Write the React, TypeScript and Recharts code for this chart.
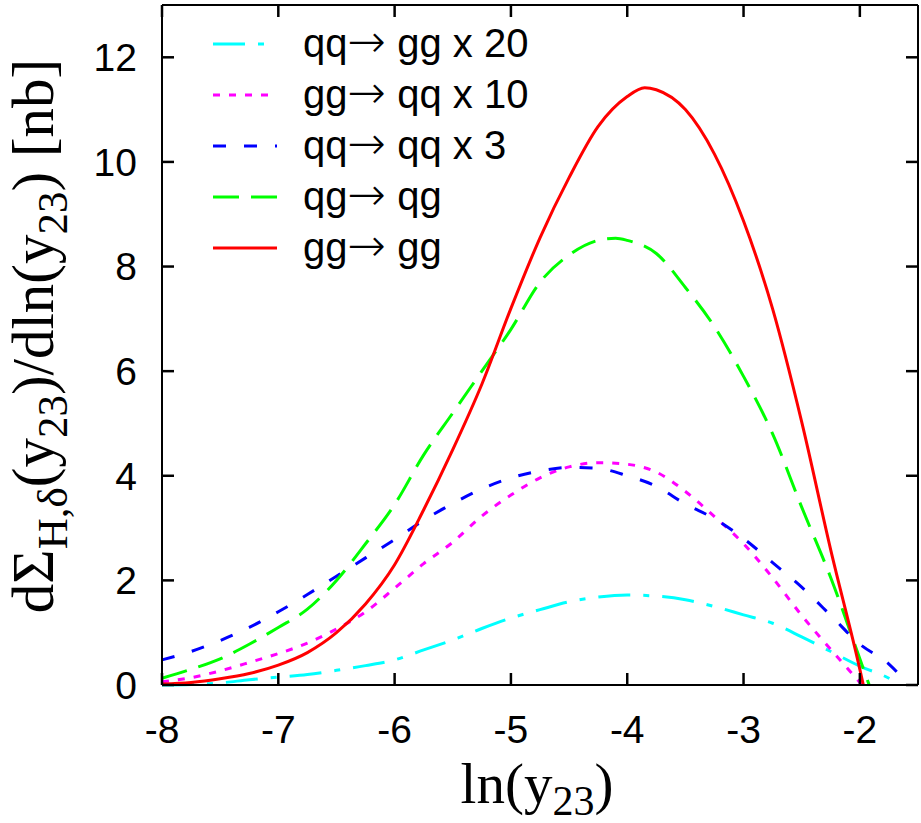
import { Line, LineChart, ReferenceLine, XAxis, YAxis } from "recharts";

const xTicks = [-8, -7, -6, -5, -4, -3, -2];
const yTicks = [0, 2, 4, 6, 8, 10, 12];
const xDomain = [-8, -1.5];
const yDomain = [0, 13];

// qq -> gg x 20
const cyanX = [-8, -7.75, -7.5, -7.25, -7, -6.75, -6.5, -6.25, -6, -5.75, -5.5, -5.25, -5, -4.75, -4.5, -4.25, -4, -3.75, -3.5, -3.25, -3, -2.75, -2.5, -2.25, -2, -1.75, -1.65];
const cyanY = [0, 0.01, 0.04, 0.1, 0.15, 0.2, 0.28, 0.37, 0.48, 0.67, 0.86, 1.08, 1.28, 1.44, 1.59, 1.68, 1.72, 1.7, 1.63, 1.5, 1.34, 1.18, 0.92, 0.64, 0.36, 0.13, 0];

// gg -> qq x 10
const magentaX = [-8, -7.75, -7.5, -7.25, -7, -6.75, -6.5, -6.25, -6, -5.75, -5.5, -5.25, -5, -4.75, -4.5, -4.25, -4, -3.75, -3.5, -3.25, -3, -2.75, -2.5, -2.25, -2, -1.98];
const magentaY = [0.06, 0.14, 0.27, 0.43, 0.6, 0.8, 1.07, 1.4, 1.85, 2.32, 2.73, 3.23, 3.63, 3.96, 4.17, 4.25, 4.22, 4.07, 3.7, 3.22, 2.7, 2.05, 1.33, 0.68, 0.05, 0];

// qq -> qq x 3
const blueX = [-8, -7.75, -7.5, -7.25, -7, -6.75, -6.5, -6.25, -6, -5.75, -5.5, -5.25, -5, -4.75, -4.5, -4.25, -4, -3.75, -3.5, -3.25, -3, -2.75, -2.5, -2.25, -2, -1.75, -1.58];
const blueY = [0.48, 0.64, 0.85, 1.1, 1.4, 1.73, 2.08, 2.43, 2.78, 3.15, 3.47, 3.75, 3.96, 4.09, 4.16, 4.14, 4.0, 3.8, 3.46, 3.18, 2.8, 2.34, 1.87, 1.33, 0.78, 0.4, 0];

// qg -> qg
const greenX = [-8, -7.75, -7.5, -7.25, -7, -6.75, -6.5, -6.25, -6, -5.75, -5.5, -5.25, -5, -4.75, -4.5, -4.25, -4.1, -4, -3.75, -3.5, -3.25, -3, -2.75, -2.5, -2.25, -2, -1.92];
const greenY = [0.13, 0.3, 0.5, 0.78, 1.1, 1.45, 2.0, 2.7, 3.45, 4.4, 5.2, 6.0, 6.8, 7.7, 8.22, 8.5, 8.54, 8.5, 8.25, 7.6, 6.85, 5.9, 4.8, 3.4, 2.05, 0.5, 0];

// gg -> gg
const redX = [-8, -7.75, -7.5, -7.25, -7, -6.75, -6.5, -6.25, -6, -5.75, -5.5, -5.25, -5, -4.75, -4.5, -4.25, -4, -3.85, -3.75, -3.5, -3.25, -3, -2.75, -2.5, -2.25, -2, -1.97];
const redY = [0.02, 0.05, 0.12, 0.22, 0.38, 0.62, 1.0, 1.55, 2.3, 3.35, 4.5, 5.75, 7.2, 8.55, 9.7, 10.68, 11.25, 11.42, 11.38, 11.0, 10.15, 8.87, 7.19, 5.03, 2.58, 0.3, 0];

const toRows = (xs: number[], ys: number[]) => xs.map((x, i) => ({ x, y: ys[i] }));

const series = [
  { from: "qq", to: " gg x 20", color: "#00ffff", dash: "32 13 6 13", data: toRows(cyanX, cyanY) },
  { from: "gg", to: " qq x 10", color: "#ff00ff", dash: "7 9", data: toRows(magentaX, magentaY) },
  { from: "qq", to: " qq x 3", color: "#0000ff", dash: "13 18", data: toRows(blueX, blueY) },
  { from: "qg", to: " qg", color: "#00ff00", dash: "26 12", data: toRows(greenX, greenY) },
  { from: "gg", to: " gg", color: "#ff0000", dash: undefined, data: toRows(redX, redY) },
];

const W = 921;
const H = 823;
const MARGIN = { top: 5, right: 3, bottom: 0, left: 0 };
const Y_AXIS_W = 162;
const X_AXIS_H = 138;
const PLOT_W = W - MARGIN.left - MARGIN.right - Y_AXIS_W;
const PLOT_H = H - MARGIN.top - MARGIN.bottom - X_AXIS_H;
const X_LABEL_GAP = 30;
const Y_LABEL_GAP = 25;
const TICK_LEN = 12;

const SANS = "'Liberation Sans', Arial, sans-serif";
const SERIF = "'Liberation Serif', 'Times New Roman', serif";
const frame = { stroke: "#000", strokeWidth: 2 };

// x tick label, with gnuplot style inward tics on the bottom and top edges
function XTick(props: any) {
  const { x, y, payload } = props;
  const bottom = y - X_LABEL_GAP;
  const top = bottom - PLOT_H;
  return (
    <g>
      <line x1={x} x2={x} y1={bottom} y2={bottom - TICK_LEN} stroke="#000000" strokeWidth={2.5} />
      <line x1={x} x2={x} y1={top} y2={top + TICK_LEN} stroke="#000000" strokeWidth={2.5} />
      <text x={x} y={y} dy="0.71em" textAnchor="middle" fontFamily={SANS} fontSize={39} fill="#000">
        {payload.value}
      </text>
    </g>
  );
}

// y tick label, with inward tics on the left and right edges
function YTick(props: any) {
  const { x, y, payload } = props;
  const left = x + Y_LABEL_GAP;
  const right = left + PLOT_W;
  return (
    <g>
      <line x1={left} x2={left + TICK_LEN} y1={y} y2={y} stroke="#000000" strokeWidth={2.5} />
      <line x1={right} x2={right - TICK_LEN} y1={y} y2={y} stroke="#000000" strokeWidth={2.5} />
      <text x={x} y={y} dy="0.355em" textAnchor="end" fontFamily={SANS} fontSize={39} fill="#000">
        {payload.value}
      </text>
    </g>
  );
}

function LegendBox() {
  return (
    <svg width={620} height={300} style={{ position: "absolute", top: 0, left: 0 }}>
      {series.map((s, i) => {
        const cy = 44 + i * 51;
        return (
          <g key={i}>
            <line x1={213} x2={277} y1={cy} y2={cy} stroke={s.color} strokeWidth={3} strokeDasharray={s.dash} />
            <text x={303} y={cy + 13} fontFamily={SANS} fontSize={40} fill="#000">
              {s.from}
              <tspan fontFamily="'DejaVu Sans', sans-serif" fontWeight={200} fontSize={46}>{"\u2192"}</tspan>
              {s.to}
            </text>
          </g>
        );
      })}
    </svg>
  );
}

function YTitle() {
  return (
    <text transform="translate(53,336) rotate(-90)" textAnchor="middle" fontFamily={SERIF} fontSize={59} fill="#000">
      {"d\u03a3"}
      <tspan fontSize={43} dy={14}>{"H,\u03b4"}</tspan>
      <tspan dy={-14}>(y</tspan>
      <tspan fontSize={43} dy={14}>23</tspan>
      <tspan dy={-14}>)/dln(y</tspan>
      <tspan fontSize={43} dy={14}>23</tspan>
      <tspan dy={-14}>) [nb]</tspan>
    </text>
  );
}

function XTitle() {
  return (
    <text x={537} y={803} textAnchor="middle" fontFamily={SERIF} fontSize={57} fill="#000">
      ln(y
      <tspan fontSize={42} dy={12}>23</tspan>
      <tspan dy={-12}>)</tspan>
    </text>
  );
}

export default function App() {
  return (
    <div style={{ position: "absolute", top: 0, left: 0, width: W, height: H }}>
      <LineChart width={W} height={H} margin={MARGIN}>
        <XAxis
          xAxisId="main"
          type="number"
          dataKey="x"
          domain={xDomain}
          ticks={xTicks}
          height={X_AXIS_H}
          axisLine={frame}
          tickSize={0}
          tickMargin={X_LABEL_GAP}
          tick={XTick}
          label={{ content: () => <XTitle /> }}
        />
        <YAxis
          yAxisId="main"
          type="number"
          domain={yDomain}
          ticks={yTicks}
          width={Y_AXIS_W}
          axisLine={frame}
          tickSize={0}
          tickMargin={Y_LABEL_GAP}
          tick={YTick}
          label={{ content: () => <YTitle /> }}
        />
        {/* top and right edges of the frame */}
        <ReferenceLine xAxisId="main" yAxisId="main" y={yDomain[1]} stroke="#000" strokeWidth={2} />
        <ReferenceLine xAxisId="main" yAxisId="main" x={xDomain[1]} stroke="#000" strokeWidth={2} />
        {series.map((s, i) => (
          <Line
            key={i}
            xAxisId="main"
            yAxisId="main"
            data={s.data}
            dataKey="y"
            name={s.from + "\u2192" + s.to}
            type="monotone"
            stroke={s.color}
            strokeWidth={3}
            strokeDasharray={s.dash}
            dot={false}
            activeDot={false}
            isAnimationActive={false}
          />
        ))}
      </LineChart>
      <LegendBox />
    </div>
  );
}
